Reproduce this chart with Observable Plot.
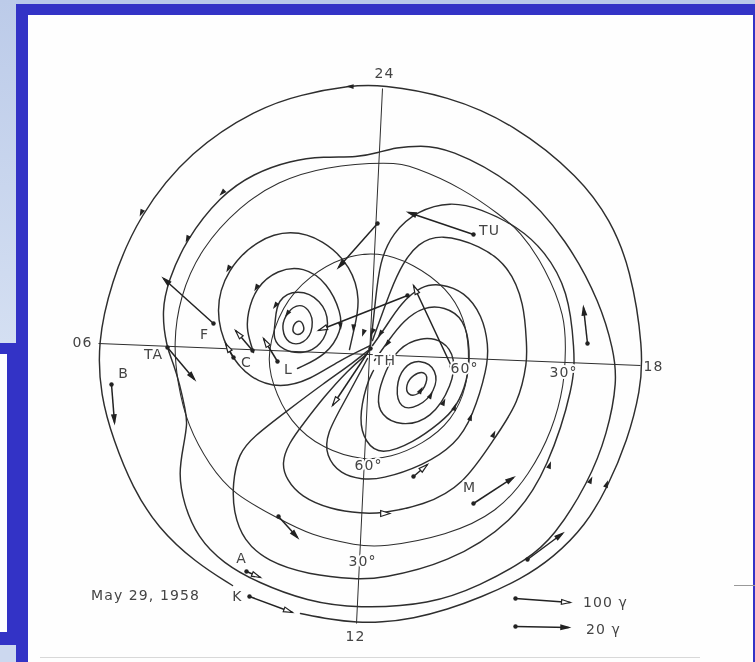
<!DOCTYPE html>
<html><head><meta charset="utf-8">
<script src="https://cdn.jsdelivr.net/npm/d3@7"></script>
<script src="https://cdn.jsdelivr.net/npm/@observablehq/plot@0.6"></script>
<style>
html,body{margin:0;padding:0;background:#fff;overflow:hidden}
#page{position:relative;width:755px;height:662px;overflow:hidden;background:#3333c6}
#page div{position:absolute}
#chart{left:0;top:0;width:755px;height:662px;filter:blur(0.35px)}
#chart svg{display:block}
#chart text{letter-spacing:1.1px}
</style></head><body>
<div id="page">
  <div style="left:0;top:0;width:755px;height:4px;background:#b9c9ea"></div>
  <div style="left:0;top:0;width:16px;height:343px;background:linear-gradient(#bccbe9,#d4dff2)"></div>
  <div style="left:0;top:645px;width:16px;height:17px;background:#ccd8ef"></div>
  <div style="left:0;top:354px;width:7px;height:278px;background:#fff"></div>
  <div style="left:28px;top:15px;width:725px;height:647px;background:#fefefe"></div>
  <div style="left:40px;top:657px;width:660px;height:1px;background:#d8d8d8"></div>
  <div style="left:734px;top:585px;width:21px;height:1px;background:#999"></div>
  <div id="chart"></div>
</div>
<script>
// Field lines (x, y in image units)
const outer = [[300,613],[330,619],[357,622],[380,622],[413,618],[447,609],[480,597],[520,579],[553,557],[585,525],[607,487],[627,440],[640,390],[643,350],[630,267],[610,220],[580,177],[513,123],[447,95],[380,84],[350,85],[300,94],[257,108],[190,150],[138,215],[110,283],[97,343],[100,395],[113,440],[132,487],[157,527],[195,562],[232,585]];
const loop2 = [[378,152],[357,157],[323,156],[290,160],[253,173],[220,195],[185,240],[168,280],[161,310],[166,347],[173,363],[179,383],[185,410],[187,423],[183,445],[178,473],[183,503],[197,537],[223,563],[257,582],[307,601],[357,608],[430,604],[480,585],[527,559],[553,537],[588,482],[607,433],[617,380],[613,350],[600,303],[567,240],[517,183],[447,147],[420,145],[395,147]];
const line3 = [[369,349],[353,362],[323,383],[287,410],[253,436],[238,453],[232,483],[233,512],[243,540],[267,561],[307,574],[357,579],[380,578],[447,563],[513,522],[548,467],[574,383],[574,350],[568,290],[544,250],[517,226],[480,208],[450,201],[417,210],[392,232],[379,262],[375,300],[370,345]];
const line5 = [[367,353],[347,370],[323,397],[303,423],[288,443],[281,463],[286,479],[300,496],[330,509],[362,513],[380,513],[423,505],[463,485],[495,436],[518,403],[527,360],[526,345],[524,303],[508,265],[480,245],[440,233],[417,243],[402,263],[390,290],[380,318],[372,340]];
const line6 = [[367,358],[343,403],[326,433],[325,455],[340,474],[362,479],[380,479],[423,465],[455,444],[472,417],[487,367],[488,345],[482,315],[464,291],[440,283],[421,285],[400,303],[385,327],[372,345]];
const line7 = [[373,370],[366,383],[358,420],[365,442],[380,455],[413,442],[440,422],[456,407],[467,380],[470,350],[464,318],[444,306],[423,306],[403,320],[388,340],[374,360]];
// Latitude circles
const lat30 = [[390,161],[323,166],[277,181],[240,205],[200,248],[179,297],[173,343],[177,383],[187,425],[209,465],[233,494],[278,518],[310,535],[357,545],[380,547],[447,535],[497,512],[529,474],[552,430],[564,383],[565,350],[565,317],[545,267],[519,230],[500,215],[463,188],[413,166]];
const lat60 = [[266,353],[271,382],[289,422],[323,449],[363,460],[390,457],[422,444],[452,420],[467,385],[469,350],[464,317],[447,288],[413,263],[377,251],[343,256],[309,275],[281,305]];
// Vortices
const leftV1 = [[291,327],[298,318],[304,325],[303,333],[294,335]];
const leftV2 = [[284,316],[295,303],[309,307],[314,327],[304,344],[287,344],[281,328]];
const leftV3 = [[275,322],[276,299],[297,288],[321,299],[330,323],[321,345],[303,354],[282,350],[272,338]];
const leftV4 = [[253,352],[246,330],[247,313],[255,287],[277,269],[303,266],[327,282],[341,313],[341,330],[327,354],[297,368]];
const leftV5 = [[370,345],[337,361],[310,379],[280,388],[250,379],[226,351],[214,310],[226,269],[257,239],[290,229],[323,239],[351,266],[360,300],[354,327],[349,349]];
const rightV1 = [[405,385],[412,374],[426,370],[427,383],[418,395],[407,395]];
const rightV2 = [[395,387],[402,366],[420,358],[437,369],[435,391],[418,407],[399,409]];
const rightV3 = [[397,348],[420,336],[444,340],[455,358],[452,384],[431,419],[400,426],[380,415],[376,397],[385,370]];
const fieldLines = [outer,line3,line5,line6,line7,leftV4,leftV5];
const closedLines = [loop2,rightV3,leftV1,leftV2,leftV3,rightV1,rightV2];
const thinClosed = [lat30,lat60];
// Straight hour lines
const hourLines = [[98,343,640,365],[382,88,356,623]];
// Disturbance vectors: tail x,y then tip x,y
const filledVectors = [[473,234,408,212],[587,343,583,307],[111,384,114,422],[167,347,194,379],[213,323,163,278],[377,223,338,267],[473,503,513,477],[527,559,562,533],[278,516,297,537],[515,626,568,627]];
const openVectors = [[233,357,225,343],[277,361,263,338],[252,350,235,330],[407,295,318,330],[451,366,413,285],[370,348,332,405],[413,476,427,464],[246,571,260,577],[249,596,292,612],[515,598,570,602]];
// Flow arrowheads on the lines: x, y, bearing in degrees
const flowFilled = [[350,86,272],[141,212,205],[187,238,205],[222,192,225],[228,268,210],[256,287,210],[275,305,215],[287,313,215],[340,325,175],[353,327,185],[363,332,200],[372,331,205],[380,333,215],[387,343,215],[420,390,30],[430,395,30],[443,402,25],[454,407,20],[470,417,20],[493,434,25],[549,465,20],[590,480,25],[606,484,20]];
const flowOpen = [[384,513,90]];
// Text
const labels = [["24",384,73],["06",82,342],["18",653,366],["12",355,636],["TA",153,354],["B",123,373],["F",204,334],["C",246,362],["L",288,369],["TH",385,360],["60°",464,368],["30°",563,372],["60°",368,465],["30°",362,561],["M",469,487],["TU",489,230],["A",241,558],["K",237,596],["May 29, 1958",145,595],["100 γ",605,602],["20 γ",603,629]];

const tipMark = {draw(c,size){const s=Math.sqrt(size/Math.PI);c.moveTo(0,0);c.lineTo(.8*s,3*s);c.lineTo(-.8*s,3*s);c.closePath();}};
const midMark = {draw(c,size){const s=Math.sqrt(size/Math.PI);c.moveTo(0,-1.7*s);c.lineTo(.95*s,1.2*s);c.lineTo(-.95*s,1.2*s);c.closePath();}};
const bearing = d => Math.atan2(d[2]-d[0], d[1]-d[3])*180/Math.PI;
const ink = "#2e2e2e", font = "'DejaVu Sans'";
const lineMark = (a,curve,w) => Plot.line(a,{x:d=>d[0],y:d=>d[1],curve,stroke:ink,strokeWidth:w});

const plot = Plot.plot({
  width:755,height:662,margin:0,
  style:{background:"transparent"},
  x:{domain:[0,755],range:[0,755],axis:null},
  y:{domain:[0,662],range:[0,662],axis:null},
  marks:[
    Plot.link(hourLines,{x1:d=>d[0],y1:d=>d[1],x2:d=>d[2],y2:d=>d[3],stroke:ink,strokeWidth:1}),
    ...thinClosed.map(a=>lineMark(a,"basis-closed",1.05)),
    ...fieldLines.map(a=>lineMark(a,"basis",1.45)),
    ...closedLines.map(a=>lineMark(a,"basis-closed",1.45)),
    Plot.link([...filledVectors,...openVectors],{x1:d=>d[0],y1:d=>d[1],x2:d=>d[2],y2:d=>d[3],stroke:"#222",strokeWidth:1.5}),
    Plot.dot([...filledVectors,...openVectors],{x:d=>d[0],y:d=>d[1],r:2.2,fill:"#222"}),
    Plot.dot(filledVectors,{x:d=>d[2],y:d=>d[3],rotate:bearing,symbol:tipMark,r:2.5,fill:"#222",stroke:"#222"}),
    Plot.dot(openVectors,{x:d=>d[2],y:d=>d[3],rotate:bearing,symbol:tipMark,r:3,fill:"#fff",stroke:"#222",strokeWidth:1.2}),
    Plot.dot(flowFilled,{x:d=>d[0],y:d=>d[1],rotate:d=>d[2],symbol:midMark,r:2.6,fill:"#222"}),
    Plot.dot(flowOpen,{x:d=>d[0],y:d=>d[1],rotate:d=>d[2],symbol:midMark,r:3.2,fill:"#fff",stroke:"#222",strokeWidth:1.2}),
    Plot.text(labels,{x:d=>d[1],y:d=>d[2],text:d=>d[0],fontSize:14,fontFamily:font,fill:"#444",stroke:"#fefefe",strokeWidth:4,paintOrder:"stroke"})
  ]
});
document.getElementById("chart").appendChild(plot);
</script>
</body></html>
